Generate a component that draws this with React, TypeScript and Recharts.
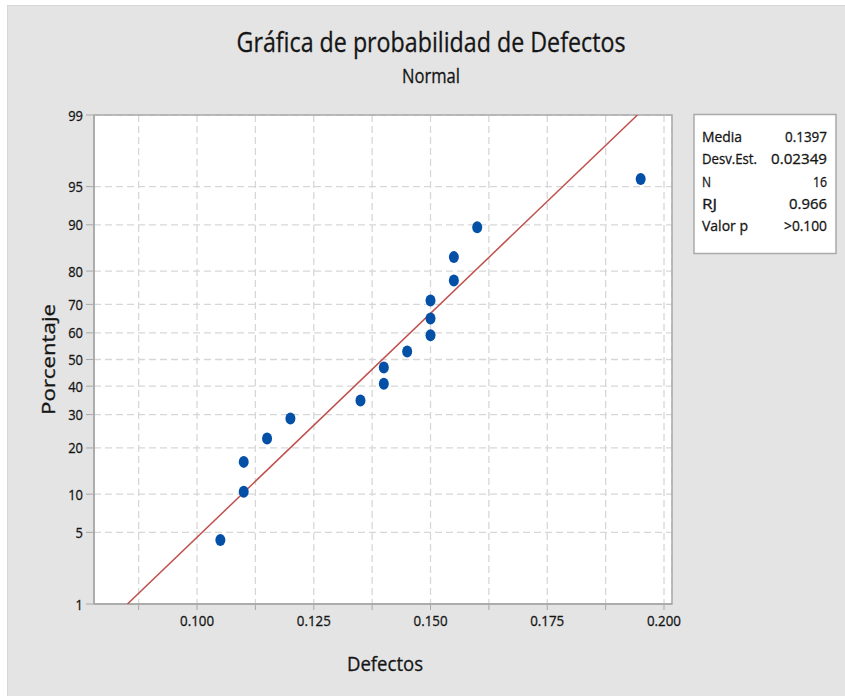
import React from "react";
import {
  ScatterChart,
  Scatter,
  XAxis,
  YAxis,
  CartesianGrid,
  ReferenceArea,
} from "recharts";

// ---- data ----
const defectos = [0.105, 0.11, 0.11, 0.115, 0.12, 0.135, 0.14, 0.14, 0.145, 0.15, 0.15, 0.15, 0.155, 0.155, 0.16, 0.195];
const porcentaje = [4.3, 10.4, 16.5, 22.6, 28.7, 34.8, 40.9, 47.0, 53.0, 59.1, 65.2, 71.3, 77.4, 83.5, 89.6, 95.7];

const fitDefectos = [0.0851, 0.1943];
const fitPorcentaje = [1, 99];

const yTickLabels = [1, 5, 10, 20, 30, 40, 50, 60, 70, 80, 90, 95, 99];
const xTicks = [0.0875, 0.1, 0.1125, 0.125, 0.1375, 0.15, 0.1625, 0.175, 0.1875, 0.2];
const xTickLabels = [0.1, 0.125, 0.15, 0.175, 0.2];

const statsLabels = ["Media", "Desv.Est.", "N", "RJ", "Valor p"];
const statsValues = ["0.1397", "0.02349", "16", "0.966", ">0.100"];

const title = "Gráfica de probabilidad de Defectos";
const subtitle = "Normal";
const xTitle = "Defectos";
const yTitle = "Porcentaje";

// inverse standard normal CDF (Acklam) — used as the probability-scale transform
function probit(p: number): number {
  const a = [-3.969683028665376e1, 2.209460984245205e2, -2.759285104469687e2, 1.38357751867269e2, -3.066479806614716e1, 2.506628277459239];
  const b = [-5.447609879822406e1, 1.615858368580409e2, -1.556989798598866e2, 6.680131188771972e1, -1.328068155288572e1];
  const c = [-7.784894002430293e-3, -3.223964580411365e-1, -2.400758277161838, -2.549732539343734, 4.374664141464968, 2.938163982698783];
  const d = [7.784695709041462e-3, 3.224671290700398e-1, 2.445134137142996, 3.754408661907416];
  const pl = 0.02425;
  if (p < pl) {
    const q = Math.sqrt(-2 * Math.log(p));
    return (((((c[0] * q + c[1]) * q + c[2]) * q + c[3]) * q + c[4]) * q + c[5]) / ((((d[0] * q + d[1]) * q + d[2]) * q + d[3]) * q + 1);
  }
  if (p > 1 - pl) {
    const q = Math.sqrt(-2 * Math.log(1 - p));
    return -(((((c[0] * q + c[1]) * q + c[2]) * q + c[3]) * q + c[4]) * q + c[5]) / ((((d[0] * q + d[1]) * q + d[2]) * q + d[3]) * q + 1);
  }
  const q = p - 0.5;
  const r = q * q;
  return ((((((a[0] * r + a[1]) * r + a[2]) * r + a[3]) * r + a[4]) * r + a[5]) * q) / (((((b[0] * r + b[1]) * r + b[2]) * r + b[3]) * r + b[4]) * r + 1);
}

const z = (pct: number) => probit(pct / 100);

const points = defectos.map((x, i) => ({ x, y: z(porcentaje[i]) }));
const fitLine = fitDefectos.map((x, i) => ({ x, y: z(fitPorcentaje[i]) }));
const yTicks = yTickLabels.map(z);
const yLabelFor = (v: number) => {
  let best = yTickLabels[0];
  let d = Infinity;
  yTickLabels.forEach((t) => {
    const dd = Math.abs(z(t) - v);
    if (dd < d) {
      d = dd;
      best = t;
    }
  });
  return String(best);
};

const yMin = z(1);
const yMax = z(99);
const xMin = 0.07794;
const xMax = 0.20171;

const FONT = "'Open Sans', 'Noto Sans', sans-serif";
const TEXT = "#151515";
const AXIS = "#a9a9a9";
const HEAVY = { stroke: TEXT, strokeWidth: 0.3 };

const XTick = (props: any) => {
  const { x, y, payload } = props;
  const v = payload.value;
  const isMajor = xTickLabels.some((t) => Math.abs(t - v) < 1e-9);
  if (!isMajor) return null;
  return (
    <text x={x} y={y + 14} textAnchor="middle" fontFamily={FONT} fontSize={14.5} fill={TEXT} {...HEAVY} textLength={34} lengthAdjust="spacingAndGlyphs">
      {v.toFixed(3)}
    </text>
  );
};

const YTick = (props: any) => {
  const { x, y, payload } = props;
  const s = yLabelFor(payload.value);
  return (
    <text x={x} y={y + 5.5} textAnchor="end" fontFamily={FONT} fontSize={15} fill={TEXT} {...HEAVY} textLength={s.length * 7.4} lengthAdjust="spacingAndGlyphs">
      {s}
    </text>
  );
};

const Dot = (props: any) => {
  const { cx, cy } = props;
  if (cx == null || cy == null) return null;
  return <ellipse cx={cx} cy={cy} rx={5} ry={6} fill="#0350a6" />;
};

const NoDot = () => null;

const labelWidths = [40, 55, 9, 15, 46];
const valueWidths = [42, 56, 14, 38, 43];

export default function App() {
  return (
    <div style={{ position: "absolute", left: 0, top: 0, width: 845, height: 696, background: "#ffffff" }}>
      <div style={{ position: "absolute", left: 7, top: 5, width: 838, height: 691, background: "#e4e4e4", borderLeft: "1px solid #d6d6d6", borderTop: "1px solid #d6d6d6", boxSizing: "border-box" }} />
      <div style={{ position: "absolute", left: 0, top: 0 }}>
        <ScatterChart width={845} height={696} margin={{ top: 115, right: 173, bottom: 62, left: 54 }}>
          <CartesianGrid
            fill="#ffffff"
            stroke="#d7d7d7"
            strokeWidth={1.3}
            strokeDasharray="7 4"
          />
          <XAxis
            type="number"
            dataKey="x"
            domain={[xMin, xMax]}
            allowDataOverflow
            ticks={xTicks}
            interval={0}
            height={30}
            tick={<XTick />}
            tickSize={6}
            tickLine={{ stroke: AXIS }}
            axisLine={{ stroke: AXIS, strokeWidth: 1.5 }}
            label={(p: any) => {
              const vb = p.viewBox;
              return (
                <text x={385} y={vb.y + 67} textAnchor="middle" fontFamily={FONT} fontSize={20} fill={TEXT} {...HEAVY} textLength={76} lengthAdjust="spacingAndGlyphs">
                  {xTitle}
                </text>
              );
            }}
          />
          <YAxis
            type="number"
            dataKey="y"
            domain={[yMin, yMax]}
            allowDataOverflow
            ticks={yTicks}
            interval={0}
            width={40}
            tick={<YTick />}
            tickSize={8}
            tickMargin={3}
            tickLine={{ stroke: AXIS }}
            axisLine={{ stroke: AXIS, strokeWidth: 1.5 }}
            label={(p: any) => {
              const vb = p.viewBox;
              const cy = vb.y + vb.height / 2;
              return (
                <text x={55} y={cy} transform={`rotate(-90 55 ${cy})`} textAnchor="middle" fontFamily={FONT} fontSize={18} fill={TEXT} {...HEAVY} textLength={111} lengthAdjust="spacingAndGlyphs">
                  {yTitle}
                </text>
              );
            }}
          />
          <ReferenceArea x1={xMin} x2={xMax} y1={yMin} y2={yMax} fill="none" stroke={AXIS} strokeWidth={1.5} fillOpacity={0} ifOverflow="visible" />
          <Scatter data={fitLine} line={{ stroke: "#c0504d", strokeWidth: 1.5 }} shape={<NoDot />} isAnimationActive={false} />
          <Scatter data={points} shape={<Dot />} isAnimationActive={false} />
        </ScatterChart>
      </div>
      <svg width={845} height={696} style={{ position: "absolute", left: 0, top: 0, pointerEvents: "none" }}>
        <text x={431} y={52} textAnchor="middle" fontFamily={FONT} fontSize={27} fill={TEXT} {...HEAVY} textLength={389} lengthAdjust="spacingAndGlyphs">
          {title}
        </text>
        <text x={431} y={83} textAnchor="middle" fontFamily={FONT} fontSize={20} fill={TEXT} {...HEAVY} textLength={58} lengthAdjust="spacingAndGlyphs">
          {subtitle}
        </text>
        <rect x={694} y={114.5} width={142} height={139} fill="#ffffff" stroke={AXIS} strokeWidth={1.5} />
        {statsLabels.map((l, i) => (
          <text key={l} x={702} y={142 + i * 22.3} fontFamily={FONT} fontSize={15} fill={TEXT} {...HEAVY} textLength={labelWidths[i]} lengthAdjust="spacingAndGlyphs">
            {l}
          </text>
        ))}
        {statsValues.map((v, i) => (
          <text key={v} x={827} y={142 + i * 22.3} textAnchor="end" fontFamily={FONT} fontSize={15} fill={TEXT} {...HEAVY} textLength={valueWidths[i]} lengthAdjust="spacingAndGlyphs">
            {v}
          </text>
        ))}
      </svg>
    </div>
  );
}
